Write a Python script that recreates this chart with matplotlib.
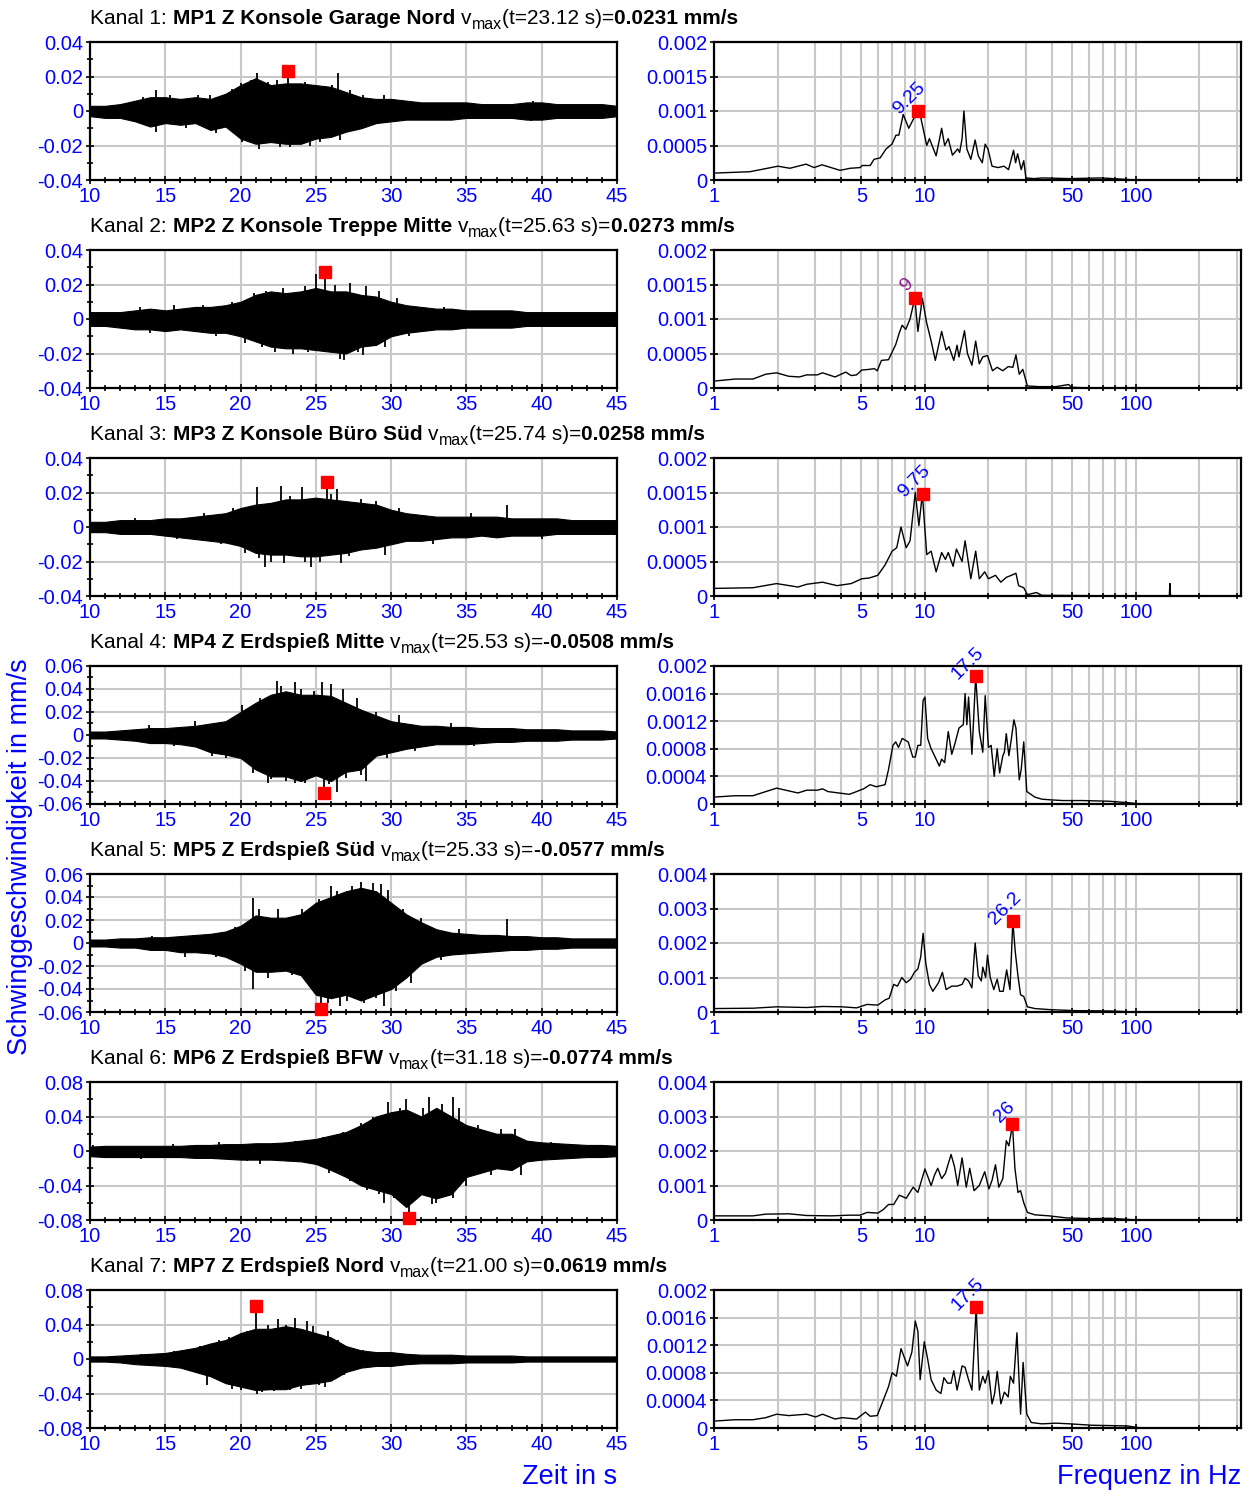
import matplotlib
matplotlib.use("Agg")
import matplotlib.pyplot as plt
from matplotlib.ticker import MultipleLocator, FixedLocator, NullFormatter, FixedFormatter
from matplotlib.transforms import IdentityTransform

plt.rcParams['font.family'] = ['Liberation Sans', 'DejaVu Sans']

# ---------------- DATA ----------------
time_s = list(range(10, 46))

# waveform envelopes (upper / lower) read per second, mm/s
env_hi_1 = [0.003,0.003,0.004,0.006,0.008,0.008,0.007,0.008,0.007,0.010,0.015,0.019,0.015,0.016,0.016,0.015,0.014,0.011,0.008,0.007,0.007,0.006,0.005,0.005,0.005,0.005,0.004,0.004,0.004,0.005,0.005,0.004,0.004,0.004,0.004,0.003]
env_lo_1 = [-0.003,-0.004,-0.004,-0.006,-0.009,-0.007,-0.008,-0.007,-0.011,-0.009,-0.016,-0.019,-0.018,-0.019,-0.019,-0.016,-0.015,-0.012,-0.010,-0.007,-0.006,-0.005,-0.005,-0.005,-0.005,-0.004,-0.004,-0.004,-0.004,-0.005,-0.005,-0.004,-0.004,-0.004,-0.004,-0.003]
env_hi_2 = [0.004,0.004,0.004,0.005,0.006,0.005,0.006,0.007,0.007,0.008,0.010,0.014,0.016,0.015,0.016,0.018,0.016,0.016,0.014,0.013,0.010,0.008,0.007,0.006,0.006,0.005,0.005,0.005,0.005,0.004,0.004,0.004,0.004,0.004,0.004,0.004]
env_lo_2 = [-0.004,-0.004,-0.005,-0.006,-0.006,-0.007,-0.006,-0.007,-0.008,-0.008,-0.010,-0.013,-0.016,-0.017,-0.017,-0.018,-0.019,-0.020,-0.016,-0.015,-0.010,-0.008,-0.007,-0.006,-0.006,-0.005,-0.005,-0.005,-0.005,-0.004,-0.004,-0.004,-0.004,-0.004,-0.004,-0.004]
env_hi_3 = [0.003,0.003,0.004,0.004,0.004,0.005,0.005,0.006,0.007,0.008,0.011,0.013,0.014,0.016,0.016,0.017,0.016,0.015,0.014,0.013,0.010,0.008,0.007,0.006,0.006,0.006,0.006,0.006,0.005,0.005,0.005,0.005,0.004,0.004,0.004,0.004]
env_lo_3 = [-0.003,-0.003,-0.004,-0.004,-0.004,-0.005,-0.006,-0.007,-0.008,-0.009,-0.011,-0.015,-0.016,-0.016,-0.017,-0.017,-0.016,-0.015,-0.013,-0.012,-0.010,-0.008,-0.008,-0.007,-0.006,-0.006,-0.005,-0.006,-0.005,-0.005,-0.005,-0.004,-0.004,-0.004,-0.004,-0.004]
env_hi_4 = [0.003,0.003,0.004,0.005,0.006,0.006,0.007,0.008,0.010,0.012,0.020,0.028,0.035,0.038,0.035,0.035,0.034,0.028,0.022,0.017,0.012,0.010,0.008,0.008,0.007,0.007,0.006,0.006,0.006,0.005,0.005,0.005,0.004,0.004,0.004,0.003]
env_lo_4 = [-0.003,-0.003,-0.004,-0.005,-0.007,-0.007,-0.008,-0.010,-0.015,-0.017,-0.020,-0.030,-0.036,-0.036,-0.040,-0.035,-0.040,-0.032,-0.030,-0.018,-0.015,-0.012,-0.010,-0.008,-0.008,-0.008,-0.007,-0.006,-0.006,-0.005,-0.005,-0.005,-0.004,-0.004,-0.004,-0.003]
env_hi_5 = [0.003,0.003,0.004,0.004,0.005,0.005,0.006,0.007,0.008,0.010,0.015,0.024,0.022,0.022,0.025,0.035,0.040,0.045,0.048,0.045,0.035,0.025,0.018,0.012,0.009,0.008,0.007,0.007,0.006,0.006,0.005,0.005,0.004,0.004,0.004,0.004]
env_lo_5 = [-0.003,-0.003,-0.004,-0.004,-0.006,-0.006,-0.008,-0.008,-0.009,-0.012,-0.018,-0.025,-0.025,-0.024,-0.028,-0.045,-0.048,-0.045,-0.050,-0.045,-0.040,-0.030,-0.018,-0.012,-0.010,-0.009,-0.008,-0.007,-0.006,-0.006,-0.005,-0.005,-0.004,-0.004,-0.004,-0.004]
env_hi_6 = [0.005,0.006,0.006,0.006,0.006,0.006,0.006,0.007,0.007,0.008,0.008,0.009,0.009,0.010,0.012,0.014,0.018,0.022,0.030,0.040,0.045,0.048,0.040,0.050,0.040,0.030,0.025,0.020,0.020,0.012,0.010,0.009,0.008,0.007,0.007,0.006]
env_lo_6 = [-0.006,-0.007,-0.007,-0.007,-0.007,-0.007,-0.007,-0.008,-0.008,-0.009,-0.010,-0.010,-0.010,-0.011,-0.012,-0.015,-0.022,-0.030,-0.040,-0.045,-0.050,-0.065,-0.050,-0.055,-0.050,-0.030,-0.025,-0.020,-0.022,-0.012,-0.010,-0.009,-0.008,-0.007,-0.007,-0.006]
env_hi_7 = [0.003,0.003,0.004,0.005,0.006,0.007,0.010,0.013,0.018,0.022,0.030,0.035,0.035,0.038,0.035,0.030,0.025,0.015,0.010,0.008,0.008,0.006,0.005,0.005,0.005,0.004,0.004,0.004,0.004,0.003,0.003,0.003,0.003,0.003,0.003,0.003]
env_lo_7 = [-0.003,-0.003,-0.004,-0.006,-0.007,-0.008,-0.010,-0.015,-0.020,-0.028,-0.032,-0.036,-0.035,-0.035,-0.030,-0.028,-0.025,-0.015,-0.010,-0.008,-0.008,-0.006,-0.005,-0.005,-0.005,-0.004,-0.004,-0.004,-0.004,-0.003,-0.003,-0.003,-0.003,-0.003,-0.003,-0.003]

# individual spikes (time s, value mm/s)
spike_t_1 = [13.5,13.6,14.4,14.4,15.3,16.4,17.2,18.0,18.4,19.4,19.7,20.0,20.1,20.7,21.1,21.2,21.8,22.4,22.6,23.12,23.3,23.8,24.3,24.6,25.3,26.1,26.5,26.6,27.3,28.1,29.5,39.3,39.4]
spike_v_1 = [0.008,-0.008,0.012,-0.012,0.009,-0.010,0.009,0.009,-0.013,0.013,-0.014,0.016,-0.018,0.018,0.022,-0.022,0.017,0.018,-0.021,0.0231,-0.021,-0.019,0.017,-0.020,-0.018,0.015,0.022,-0.017,0.012,0.009,0.009,-0.006,0.006]
spike_t_2 = [13.3,14.0,15.6,17.5,18.4,19.4,20.3,20.9,21.4,21.7,22.3,22.8,23.5,24.3,24.5,25.0,25.63,26.3,26.6,26.9,27.3,27.8,28.1,28.3,29.2,29.6,30.4,31.2,33.5]
spike_v_2 = [0.007,-0.008,0.008,0.008,-0.010,0.010,-0.014,0.015,-0.016,0.016,-0.019,0.018,-0.020,0.019,-0.019,0.026,0.0273,0.020,-0.023,-0.024,0.021,-0.019,-0.021,0.019,0.016,-0.016,0.012,-0.010,0.007]
spike_t_3 = [13.0,15.8,17.6,18.7,19.5,20.3,21.1,21.2,21.6,22.0,22.7,22.9,23.3,24.1,24.3,24.7,25.3,25.74,26.0,26.4,26.7,27.2,28.0,29.0,29.6,30.5,32.8,35.3,37.7,40.0]
spike_v_3 = [0.005,-0.007,0.008,-0.010,0.011,-0.015,0.023,-0.018,-0.023,-0.020,0.024,-0.021,0.018,0.023,-0.020,-0.023,-0.020,0.0258,0.019,0.022,-0.021,-0.017,0.016,0.015,-0.016,0.011,-0.010,0.008,0.013,-0.007]
spike_t_4 = [13.9,15.6,17.0,18.1,19.0,20.1,20.8,21.3,21.8,22.0,22.4,22.7,23.0,23.6,23.6,24.0,24.3,24.9,25.4,25.53,25.9,26.0,26.4,26.8,27.0,27.7,28.0,28.3,29.0,29.7,30.5,31.6,34.0,35.5]
spike_v_4 = [0.009,-0.010,0.012,-0.018,-0.020,0.026,-0.033,0.032,-0.042,-0.038,0.047,0.043,-0.040,0.046,-0.042,0.040,-0.042,0.038,0.046,-0.0508,-0.043,0.044,-0.050,0.040,-0.037,0.032,-0.035,-0.040,0.020,-0.020,0.017,-0.014,0.010,-0.010]
spike_t_5 = [14.1,16.3,18.4,19.6,20.3,20.8,20.8,21.2,21.8,22.5,23.4,24.1,24.8,25.2,25.33,25.8,26.0,26.4,26.6,27.1,27.4,28.0,28.2,28.8,29.0,29.3,29.5,29.8,30.3,30.8,31.3,32.0,33.3,34.5,37.7]
spike_v_5 = [0.006,-0.012,-0.012,0.014,-0.024,0.039,-0.040,0.030,-0.030,0.030,-0.028,0.030,-0.040,0.038,-0.0577,-0.052,0.050,0.045,-0.055,-0.050,0.050,0.053,-0.052,0.052,-0.048,0.051,-0.055,0.046,-0.042,0.030,-0.035,0.022,-0.015,0.012,0.021]
spike_t_6 = [10.2,13.4,15.5,18.6,20.4,21.3,23.6,25.5,25.9,26.8,27.3,28.0,28.4,28.8,29.2,29.5,29.8,30.2,30.6,31.0,31.18,31.5,32.1,32.5,32.7,33.0,33.4,34.1,34.1,34.5,35.0,35.8,36.6,37.3,38.2,38.6,40.6]
spike_v_6 = [0.007,-0.009,0.008,0.010,-0.012,-0.015,0.012,0.016,-0.025,0.022,-0.035,0.033,-0.045,0.040,-0.050,-0.060,0.057,-0.055,0.050,0.060,-0.0774,-0.050,0.050,0.063,-0.062,-0.060,0.055,0.063,-0.055,0.050,-0.040,0.030,-0.028,0.025,0.025,-0.028,0.010]
spike_t_7 = [13.4,15.6,16.5,17.3,17.8,18.2,18.6,19.2,19.4,20.0,20.4,21.0,21.1,21.4,21.8,22.2,22.5,23.0,23.3,23.6,24.0,24.4,24.8,25.2,25.6,25.8,26.5,26.9,28.1,29.6]
spike_v_7 = [0.006,0.009,-0.012,0.015,-0.030,-0.020,0.022,0.025,-0.035,-0.036,0.032,0.0619,-0.040,-0.038,0.040,-0.037,0.046,0.040,-0.036,0.047,-0.035,0.044,0.038,-0.030,-0.033,0.032,0.022,-0.018,0.010,0.008]

# spectra (frequency in Hz, amplitude)
freq_1 = [1.0,1.48,2.01,2.29,2.73,2.98,3.25,3.96,4.42,4.93,5.04,5.5,5.74,6.13,6.54,6.98,7.29,7.52,7.89,8.38,9.22,9.53,10.2,10.5,11.3,12.0,12.4,12.9,13.5,14.3,14.6,15.0,15.3,15.8,16.5,17.3,17.9,18.7,19.3,19.9,20.8,22.2,23.7,24.9,26.3,26.9,27.5,28.6,29.4,30.1,32.9,36.0,48.8,69.0,100.0]
amp_1 = [0.0001,0.00012,0.0002,0.00017,0.00023,0.00018,0.00022,0.00014,0.00017,0.00018,0.00021,0.00021,0.0003,0.00032,0.00045,0.00052,0.00065,0.00065,0.00095,0.00075,0.001,0.00092,0.0005,0.0006,0.00035,0.00075,0.0005,0.0006,0.00036,0.00045,0.0004,0.0006,0.001,0.00045,0.0003,0.00058,0.00035,0.00025,0.00052,0.00045,0.0002,0.00018,0.0002,0.00015,0.00043,0.00025,0.00038,0.00015,0.00028,0.00003,0.00002,0.00003,0.00002,0.00003,0.0]
freq_2 = [1.0,1.26,1.53,1.76,1.98,2.26,2.54,2.75,3.09,3.27,3.75,4.21,4.47,4.74,5.02,5.43,5.76,5.94,6.22,6.72,7.27,7.56,7.8,8.11,8.5,8.95,9.26,9.72,10.18,10.7,11.2,12.0,12.6,13.0,13.7,14.2,14.5,15.4,15.9,16.7,17.4,18.1,18.8,19.8,20.9,22.0,23.4,24.8,26.1,27.0,28.0,29.1,30.6,34.4,41.8,47.9,49.8,61.8,100.0]
amp_2 = [0.0001,0.00013,0.00013,0.0002,0.00022,0.00017,0.00016,0.00019,0.00019,0.00022,0.00016,0.00023,0.00018,0.00019,0.00026,0.00027,0.00028,0.00025,0.0004,0.00041,0.00063,0.0008,0.00091,0.00085,0.001,0.0013,0.00082,0.0013,0.00095,0.00068,0.0004,0.00082,0.00055,0.0006,0.0004,0.00062,0.00045,0.00083,0.0005,0.00033,0.00068,0.00035,0.00045,0.00047,0.00025,0.0003,0.00025,0.00031,0.0003,0.00048,0.0002,0.00027,0.00003,0.00002,0.00002,0.00005,0.00001,0.0,0.0]
freq_3 = [1.0,1.53,1.98,2.5,2.75,3.27,3.83,4.47,5.02,5.43,5.98,6.47,6.99,7.35,7.7,8.15,8.5,9.0,9.36,9.72,10.2,10.7,11.3,12.0,12.5,12.9,13.6,14.1,15.0,15.5,16.5,17.4,18.1,19.2,20.0,21.6,22.9,24.3,25.7,27.0,27.8,29.4,30.6,33.8,35.8,100.0,144.0,145.0,146.0,250.0]
amp_3 = [0.00011,0.00012,0.00018,0.00013,0.00017,0.0002,0.00015,0.00018,0.00025,0.00026,0.0003,0.00045,0.00065,0.0007,0.001,0.0007,0.0008,0.0015,0.00102,0.00148,0.0006,0.00065,0.00035,0.00063,0.00053,0.00063,0.00043,0.00068,0.0005,0.0008,0.00025,0.00065,0.00025,0.00035,0.00025,0.0003,0.0002,0.00027,0.0003,0.00033,0.00015,0.00012,0.00002,0.00005,0.00001,0.0,0.0,0.00018,0.0,0.0]
freq_4 = [1.0,1.26,1.53,1.98,2.5,2.75,3.09,3.27,3.47,4.38,4.74,5.12,5.5,5.87,6.47,6.72,7.05,7.27,7.49,7.8,8.33,8.76,9.0,9.26,9.55,9.8,10.0,10.3,10.7,11.1,11.7,12.0,12.4,12.9,13.4,13.8,14.5,15.2,15.5,15.8,16.1,16.7,17.4,18.1,18.8,19.3,20.0,20.6,21.3,22.0,22.6,23.4,23.8,24.3,25.0,25.7,26.4,27.0,28.0,28.6,29.4,30.4,33.2,35.8,39.4,45.1,55.6,74.9,90.8,106.0]
amp_4 = [0.0001,0.00012,0.00012,0.00023,0.00016,0.0002,0.0002,0.00022,0.00018,0.00014,0.00018,0.00022,0.00028,0.00025,0.00028,0.0005,0.00085,0.0009,0.00082,0.00095,0.0009,0.00068,0.00068,0.00085,0.00085,0.0015,0.00155,0.00095,0.0008,0.0007,0.00055,0.00065,0.0006,0.00105,0.00072,0.00085,0.0011,0.00115,0.0016,0.00115,0.00155,0.00072,0.00185,0.00105,0.00075,0.00157,0.00082,0.00085,0.0004,0.0008,0.00045,0.0007,0.00075,0.00102,0.0007,0.00095,0.00122,0.0011,0.00035,0.0005,0.0009,0.00018,0.0001,0.00007,0.00006,0.00005,0.00005,0.00004,0.00002,0.0]
freq_5 = [1.0,1.53,1.98,2.75,3.27,4.05,4.74,5.32,5.98,6.47,6.77,7.11,7.41,7.77,8.15,8.55,8.91,9.26,9.55,9.8,10.1,10.5,10.9,11.6,12.1,12.6,13.4,14.2,15.0,15.5,16.1,16.7,17.3,17.9,18.5,18.8,19.4,19.8,20.4,21.2,22.0,22.6,23.5,24.4,25.3,26.1,26.8,27.6,28.4,29.4,30.6,33.2,38.8,50.8,74.9,100.0]
amp_5 = [0.0001,0.00011,0.00015,0.00013,0.00016,0.00015,0.00012,0.00022,0.0002,0.00035,0.0004,0.0008,0.00075,0.001,0.00085,0.00095,0.00115,0.00125,0.0016,0.00228,0.0014,0.0008,0.0006,0.00085,0.00115,0.00065,0.00075,0.00075,0.0008,0.00098,0.0009,0.0007,0.002,0.00105,0.0009,0.0013,0.001,0.00165,0.001,0.00065,0.00095,0.0006,0.0006,0.00122,0.00065,0.00262,0.00175,0.00105,0.0005,0.00045,0.00015,0.0001,0.00007,0.00004,0.00003,0.0]
freq_6 = [1.0,1.53,1.76,2.26,2.75,3.61,4.38,4.93,5.32,5.98,6.34,6.72,7.11,7.56,8.15,8.8,9.26,10.0,10.7,11.1,11.5,12.0,12.5,13.3,13.8,14.3,15.0,15.7,16.3,17.1,18.1,19.2,20.1,20.8,21.6,22.4,23.4,24.3,25.0,26.0,26.7,27.6,28.4,29.4,30.6,33.2,38.8,47.0,61.8,74.9,90.8,100.0]
amp_6 = [0.00012,0.00012,0.00017,0.00018,0.00013,0.00012,0.00014,0.00014,0.00022,0.0002,0.0003,0.00045,0.00045,0.00072,0.00063,0.00095,0.0008,0.00148,0.001,0.0013,0.0015,0.0012,0.00135,0.0019,0.00155,0.001,0.0018,0.00095,0.0015,0.00085,0.001,0.0014,0.0009,0.00115,0.0016,0.00095,0.0012,0.0023,0.00215,0.00277,0.0015,0.0008,0.00085,0.0005,0.00022,0.00015,0.00012,0.00006,0.00004,0.00005,0.00002,0.0]
freq_7 = [1.0,1.26,1.53,1.76,1.98,2.26,2.75,3.03,3.27,3.75,4.05,4.74,5.22,5.5,5.94,6.34,6.72,6.99,7.32,7.7,8.27,8.67,9.0,9.26,9.49,9.93,10.3,10.7,11.3,11.9,12.3,12.8,13.3,13.7,14.2,15.0,15.5,16.1,16.7,17.5,18.1,18.8,19.3,20.0,20.8,21.4,22.0,22.9,23.8,24.8,25.4,26.3,27.3,28.4,29.2,30.4,31.9,35.8,41.8,48.8,61.8,90.8,106.0]
amp_7 = [0.0001,0.00012,0.00012,0.00015,0.0002,0.00018,0.0002,0.00016,0.0002,0.00013,0.00015,0.00013,0.00023,0.00017,0.00018,0.0004,0.0006,0.0008,0.00075,0.00115,0.0009,0.0011,0.00155,0.0014,0.0007,0.00125,0.001,0.0007,0.00055,0.0005,0.00073,0.00065,0.00065,0.00083,0.00055,0.0009,0.00088,0.0007,0.00055,0.00175,0.00055,0.00075,0.00065,0.00083,0.00035,0.0005,0.00082,0.00035,0.00052,0.00045,0.00075,0.00065,0.00138,0.0002,0.00095,0.0002,0.00008,0.00006,0.00007,0.00006,0.00004,0.00003,0.0]

names = ["MP1 Z Konsole Garage Nord", "MP2 Z Konsole Treppe Mitte", "MP3 Z Konsole Büro Süd",
         "MP4 Z Erdspieß Mitte", "MP5 Z Erdspieß Süd", "MP6 Z Erdspieß BFW", "MP7 Z Erdspieß Nord"]
vmax_t = [23.12, 25.63, 25.74, 25.53, 25.33, 31.18, 21.00]
vmax_v = [0.0231, 0.0273, 0.0258, -0.0508, -0.0577, -0.0774, 0.0619]
peak_f = [9.25, 9.0, 9.75, 17.5, 26.2, 26.0, 17.5]
peak_a = [0.00100, 0.00131, 0.00148, 0.00185, 0.00265, 0.00277, 0.00175]
peak_lbl = ["9.25", "9", "9.75", "17.5", "26.2", "26", "17.5"]
peak_col = ["#0000ff", "#8b1a8b", "#0000ff", "#0000ff", "#0000ff", "#0000ff", "#0000ff"]

t_lim = [0.04, 0.04, 0.04, 0.06, 0.06, 0.08, 0.08]
t_major = [0.02, 0.02, 0.02, 0.02, 0.02, 0.04, 0.04]
t_minor = [0.01, 0.01, 0.01, 0.01, 0.01, 0.02, 0.02]
f_lim = [0.002, 0.002, 0.002, 0.002, 0.004, 0.004, 0.002]
f_major = [0.0005, 0.0005, 0.0005, 0.0004, 0.001, 0.001, 0.0004]

env_hi = [env_hi_1, env_hi_2, env_hi_3, env_hi_4, env_hi_5, env_hi_6, env_hi_7]
env_lo = [env_lo_1, env_lo_2, env_lo_3, env_lo_4, env_lo_5, env_lo_6, env_lo_7]
spike_t = [spike_t_1, spike_t_2, spike_t_3, spike_t_4, spike_t_5, spike_t_6, spike_t_7]
spike_v = [spike_v_1, spike_v_2, spike_v_3, spike_v_4, spike_v_5, spike_v_6, spike_v_7]
freqs = [freq_1, freq_2, freq_3, freq_4, freq_5, freq_6, freq_7]
amps = [amp_1, amp_2, amp_3, amp_4, amp_5, amp_6, amp_7]

# ---------------- LAYOUT ----------------
W, H = 1259, 1490
fig = plt.figure(figsize=(W / 100, H / 100), dpi=100)
BLUE = "#0000ff"
GRID = "#c8c8c8"
TICK_FS = 14.5
TITLE_FS = 15

def rect(x0, x1, top, h=138):
    return [x0 / W, 1 - (top + h) / H, (x1 - x0) / W, h / H]

renderer = fig.canvas.get_renderer()

def rich_text(x, y_top, parts):
    # parts: (text, weight, size, drop_px, gap_px)
    xc = x
    for txt, wt, sz, drop, gap in parts:
        xc += gap
        t = fig.text(xc, H - y_top - drop, txt, fontsize=sz, fontweight=wt,
                     transform=IdentityTransform(), va="baseline", ha="left", color="black")
        xc += t.get_window_extent(renderer=renderer).width

def style_axes(ax):
    for s in ax.spines.values():
        s.set_linewidth(1.6)
        s.set_color("black")
    ax.tick_params(which="both", direction="inout", colors="black", labelcolor=BLUE,
                   labelsize=TICK_FS)
    ax.tick_params(axis="x", which="both", pad=2)
    ax.tick_params(axis="y", which="both", pad=2)
    ax.tick_params(which="major", length=6, width=1.2)
    ax.tick_params(which="minor", length=5, width=1.2)
    ax.set_axisbelow(True)

for i in range(7):
    top = 42 + 208 * i
    # ---- time signal ----
    ax = fig.add_axes(rect(90, 617, top))
    ax.fill_between(time_s, env_lo[i], env_hi[i], color="black", lw=0.8)
    ax.vlines(spike_t[i], 0, spike_v[i], color="black", lw=1.3)
    ax.plot([vmax_t[i]], [vmax_v[i]], "s", color="#ff0000", ms=8.5, clip_on=False, zorder=5)
    ax.set_xlim(10, 45)
    ax.set_ylim(-t_lim[i], t_lim[i])
    ax.xaxis.set_major_locator(MultipleLocator(5))
    ax.xaxis.set_minor_locator(MultipleLocator(1))
    n = round(t_lim[i] / t_major[i])
    yt = [k * t_major[i] for k in range(-n, n + 1)]
    ax.set_yticks(yt, [f"{round(v, 4):g}" for v in yt])
    ax.yaxis.set_minor_locator(MultipleLocator(t_minor[i]))
    ax.grid(True, which="major", color=GRID, lw=1.5)
    style_axes(ax)

    # ---- spectrum ----
    bx = fig.add_axes(rect(714, 1241, top))
    bx.plot(freqs[i], amps[i], color="black", lw=1.0)
    bx.plot([peak_f[i]], [peak_a[i]], "s", color="#ff0000", ms=8.5, clip_on=False, zorder=5)
    bx.annotate(peak_lbl[i], (peak_f[i], peak_a[i]), xytext=(-6, 9), textcoords="offset points",
                rotation=45, ha="center", va="center", rotation_mode="anchor",
                color=peak_col[i], fontsize=14, annotation_clip=False)
    bx.set_xscale("log")
    bx.set_xlim(1, 315)
    bx.set_ylim(0, f_lim[i])
    bx.xaxis.set_major_locator(FixedLocator([1, 5, 10, 50, 100]))
    bx.xaxis.set_minor_locator(FixedLocator([2, 3, 4, 6, 7, 8, 9, 20, 30, 40, 60, 70, 80, 90, 200, 300]))
    bx.xaxis.set_major_formatter(FixedFormatter(["1", "5", "10", "50", "100"]))
    bx.xaxis.set_minor_formatter(NullFormatter())
    m = round(f_lim[i] / f_major[i])
    ft = [k * f_major[i] for k in range(m + 1)]
    bx.set_yticks(ft, [f"{round(v, 5):g}" for v in ft])
    bx.grid(True, which="both", axis="x", color=GRID, lw=1.5)
    bx.grid(True, which="major", axis="y", color=GRID, lw=1.5)
    style_axes(bx)

    # ---- title ----
    v = vmax_v[i]
    rich_text(90, 24 + 208 * i, [
        (f"Kanal {i + 1}:", "normal", TITLE_FS, 0, 0),
        (names[i], "bold", TITLE_FS, 0, 6),
        ("v", "normal", TITLE_FS, 0, 6),
        ("max", "normal", 11.5, 5, 0),
        (f"(t={vmax_t[i]:.2f} s)=", "normal", TITLE_FS, 0, 0),
        (f"{v:.4f} mm/s", "bold", TITLE_FS, 0, 0),
    ])

fig.text(20 / W, 1 - 857 / H, "Schwinggeschwindigkeit in mm/s", rotation=90, color=BLUE,
         fontsize=19.5, ha="center", va="center")
fig.text(617 / W, 1 - 1477 / H, "Zeit in s", color=BLUE, fontsize=19.5, ha="right", va="center")
fig.text(1241 / W, 1 - 1477 / H, "Frequenz in Hz", color=BLUE, fontsize=19.5, ha="right", va="center")

fig.savefig("out.png", dpi=100)
